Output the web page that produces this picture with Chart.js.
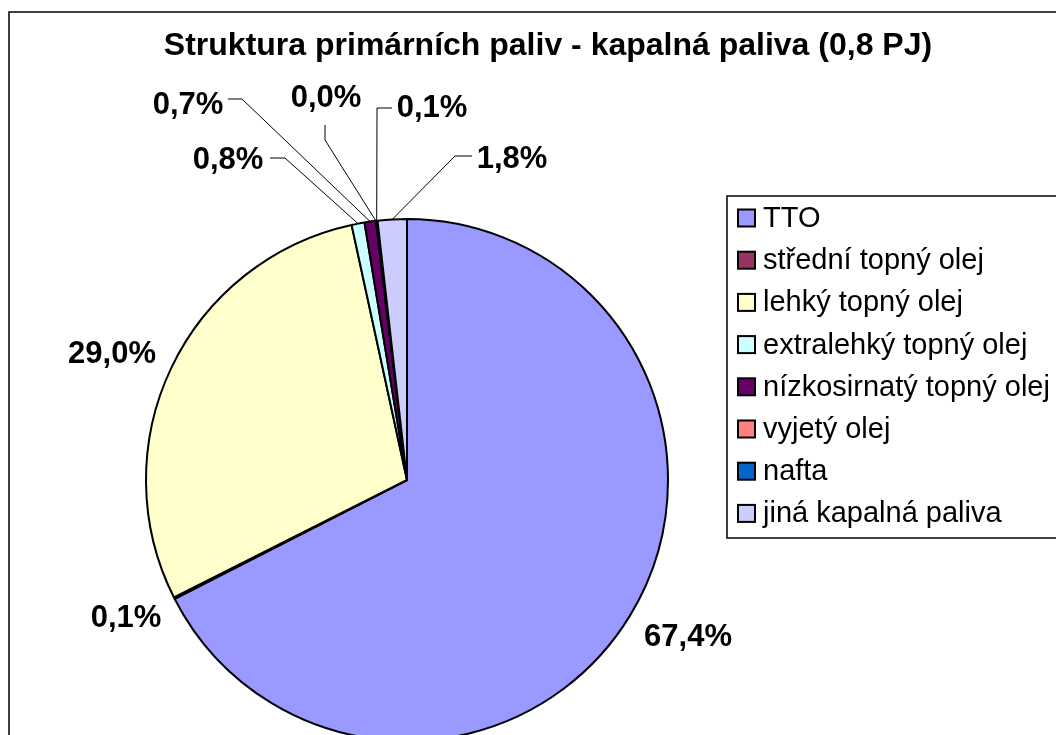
<!DOCTYPE html>
<html lang="cs">

<head>
    <meta charset="UTF-8">
    <title>Struktura primárních paliv - kapalná paliva</title>
    <script src="https://cdn.jsdelivr.net/npm/chart.js"></script>
    <style>
        html, body { margin: 0; padding: 0; background: #fff; overflow: hidden; }
        #wrap { position: relative; width: 1056px; height: 735px; overflow: hidden; }
        canvas { position: absolute; left: 0; top: 0; }
    </style>
</head>

<body>
    <div id="wrap"><canvas id="pie" width="1056" height="760"></canvas></div>
    <script>
        const chartTitle = 'Struktura primárních paliv - kapalná paliva (0,8 PJ)';
        const labels = ['TTO', 'střední topný olej', 'lehký topný olej', 'extralehký topný olej',
            'nízkosirnatý topný olej', 'vyjetý olej', 'nafta', 'jiná kapalná paliva'];
        const shares = [67.4, 0.1, 29.0, 0.8, 0.7, 0.0, 0.1, 1.8];
        const colors = ['#9999FF', '#993366', '#FFFFCC', '#CCFFFF', '#660066', '#FF8080', '#0066CC', '#CCCCFF'];

        // where each data label sits, relative to the pie centre; leader = [start, elbow] or null
        const labelSpots = [
            { at: [281, 155], leader: null },
            { at: [-281, 136], leader: null },
            { at: [-295, -128], leader: null },
            { at: [-179, -322], leader: [[-137, -322], [-122, -322]] },
            { at: [-219, -377], leader: [[-179, -381], [-165, -381]] },
            { at: [-81, -384], leader: [[-82, -355], [-82, -340]] },
            { at: [25, -374], leader: [[-15, -372], [-30, -372]] },
            { at: [105, -323], leader: [[65, -324], [48, -324]] }
        ];

        const fmt = v => v.toFixed(1).replace('.', ',') + '%';

        const decor = {
            id: 'decor',
            beforeDraw(chart) {
                const ctx = chart.ctx;
                ctx.save();
                ctx.fillStyle = '#fff';
                ctx.fillRect(0, 0, chart.width, chart.height);
                // outer frame
                ctx.strokeStyle = '#000';
                ctx.lineWidth = 1.5;
                ctx.strokeRect(9, 12, 1100, 900);
                // title
                ctx.fillStyle = '#000';
                ctx.font = 'bold 32px "Liberation Sans", Arial, sans-serif';
                ctx.textAlign = 'center';
                ctx.textBaseline = 'alphabetic';
                ctx.fillText(chartTitle, 548, 55);
                ctx.restore();
            },
            afterDraw(chart) {
                const ctx = chart.ctx;
                const arcs = chart.getDatasetMeta(0).data;
                ctx.save();
                // data labels + leaders
                ctx.font = 'bold 31px "Liberation Sans", Arial, sans-serif';
                ctx.textAlign = 'center';
                ctx.textBaseline = 'middle';
                ctx.fillStyle = '#000';
                ctx.strokeStyle = '#000';
                ctx.lineWidth = 1;
                arcs.forEach((arc, i) => {
                    const p = arc.getProps(['x', 'y', 'startAngle', 'endAngle', 'outerRadius'], true);
                    const spot = labelSpots[i];
                    ctx.fillText(fmt(shares[i]), p.x + spot.at[0], p.y + spot.at[1] + 2);
                    if (spot.leader) {
                        const mid = (p.startAngle + p.endAngle) / 2;
                        const ax = p.x + Math.cos(mid) * p.outerRadius;
                        const ay = p.y + Math.sin(mid) * p.outerRadius;
                        ctx.beginPath();
                        ctx.moveTo(p.x + spot.leader[0][0], p.y + spot.leader[0][1]);
                        ctx.lineTo(p.x + spot.leader[1][0], p.y + spot.leader[1][1]);
                        ctx.lineTo(ax, ay);
                        ctx.stroke();
                    }
                });
                // legend box
                ctx.lineWidth = 1.5;
                ctx.fillStyle = '#fff';
                ctx.fillRect(727, 196, 400, 342);
                ctx.strokeRect(727, 196, 400, 342);
                ctx.font = '29px "Liberation Sans", Arial, sans-serif';
                ctx.textAlign = 'left';
                labels.forEach((name, i) => {
                    const cy = 218 + i * 42.2;
                    ctx.fillStyle = colors[i];
                    ctx.fillRect(738, cy - 8.5, 17, 17);
                    ctx.lineWidth = 2;
                    ctx.strokeRect(738, cy - 8.5, 17, 17);
                    ctx.fillStyle = '#000';
                    ctx.fillText(name, 763, cy + 1);
                });
                ctx.restore();
            }
        };

        new Chart(document.getElementById('pie'), {
            type: 'pie',
            data: {
                labels: labels,
                datasets: [{
                    data: shares,
                    backgroundColor: colors,
                    borderColor: '#000',
                    borderWidth: 2
                }]
            },
            options: {
                responsive: false,
                animation: false,
                layout: { padding: { left: 145, right: 387, top: 218, bottom: 18 } },
                plugins: {
                    legend: { display: false },
                    tooltip: { enabled: false }
                }
            },
            plugins: [decor]
        });
    </script>
</body>

</html>
